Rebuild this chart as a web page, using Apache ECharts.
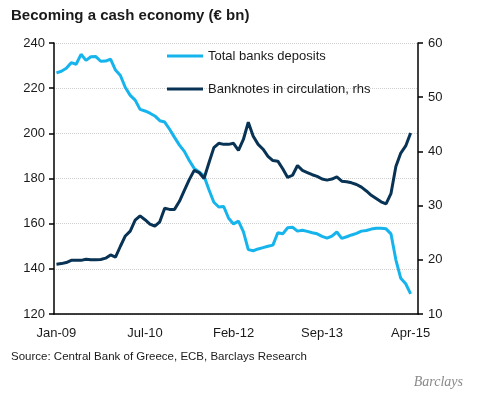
<!DOCTYPE html>
<html>
<head>
<meta charset="utf-8">
<script src="https://cdn.jsdelivr.net/npm/echarts@6/dist/echarts.min.js"></script>
<style>
html,body{margin:0;padding:0;background:#fff;}
#chart{width:479px;height:396px;}
</style>
</head>
<body>
<div id="chart"></div>
<script>
// ---- data ----
var tickLabels = ['Jan-09', 'Jul-10', 'Feb-12', 'Sep-13', 'Apr-15'];
var tickStep = 18;
var categoryCount = 74;

var deposits = [
  226.8, 227.5, 228.8, 231.3, 230.6, 235.0, 232.3, 233.9, 234.0, 231.9,
  232.0, 232.9, 228.0, 225.6, 220.3, 216.8, 214.7, 210.6, 209.9, 208.9,
  207.7, 205.6, 205.0, 201.8, 198.2, 194.8, 192.0, 188.0, 184.5, 182.9,
  181.1, 175.0, 169.5, 167.4, 167.6, 162.4, 159.9, 161.1, 156.5, 148.5,
  148.0, 148.8, 149.4, 150.0, 150.5, 156.0, 155.5, 158.2, 158.4, 156.7,
  157.1, 156.6, 156.0, 155.5, 154.4, 153.6, 154.5, 156.3, 153.5, 154.2,
  155.0, 155.7, 156.7, 157.0, 157.6, 158.0, 158.0, 157.7, 155.5, 144.0,
  135.8, 133.4, 128.9
];

var banknotes = [
  19.2, 19.3, 19.5, 19.9, 19.9, 19.9, 20.1, 20.0, 20.0, 20.05,
  20.3, 20.9, 20.5, 22.5, 24.4, 25.3, 27.3, 28.1, 27.4, 26.6,
  26.2, 27.0, 29.5, 29.3, 29.3, 30.8, 32.8, 34.8, 36.5, 36.1,
  35.0, 37.9, 40.7, 41.5, 41.3, 41.3, 41.5, 40.2, 42.2, 45.4,
  42.8, 41.3, 40.4, 39.1, 38.3, 38.2, 36.8, 35.2, 35.6, 37.4,
  36.5, 36.1, 35.7, 35.4, 34.9, 34.7, 34.9, 35.3, 34.5, 34.4,
  34.2, 33.9, 33.4, 32.7, 31.9, 31.3, 30.7, 30.3, 32.2, 37.2,
  39.7, 41.0, 43.4
];

var seriesNames = ['Total banks deposits', 'Banknotes in circulation, rhs'];

var categories = [];
for (var i = 0; i < categoryCount; i++) categories.push(String(i));

// ---- chart ----
var FONT = '"Liberation Sans", Arial, sans-serif';
var chart = echarts.init(document.getElementById('chart'), null, {renderer: 'canvas'});
var showAt = function (idx) { return idx % tickStep === 0; };

chart.setOption({
  animation: false,
  backgroundColor: '#ffffff',
  title: [
    {
      text: 'Becoming a cash economy (€ bn)',
      left: 6, top: 3,
      textStyle: {fontFamily: FONT, fontSize: 15, fontWeight: 'bold', color: '#1a1a1a'}
    },
    {
      text: 'Source: Central Bank of Greece, ECB, Barclays Research',
      left: 6, top: 346,
      textStyle: {fontFamily: FONT, fontSize: 11.5, fontWeight: 'normal', color: '#1a1a1a'}
    },
    {
      text: 'Barclays',
      right: 11, top: 370,
      textStyle: {fontFamily: '"Liberation Serif", "DejaVu Serif", serif', fontSize: 14, fontStyle: 'italic', fontWeight: 'normal', color: '#8a8a8a'}
    }
  ],
  legend: {
    orient: 'vertical',
    left: 162, top: 44,
    itemWidth: 36, itemHeight: 3,
    itemGap: 19,
    icon: 'rect',
    textStyle: {fontFamily: FONT, fontSize: 13, color: '#1a1a1a', lineHeight: 14},
    data: seriesNames
  },
  grid: {left: 54, right: 61, top: 43, bottom: 82, containLabel: false},
  xAxis: {
    type: 'category',
    data: categories,
    boundaryGap: true,
    axisLine: {lineStyle: {color: '#000', width: 1.5}},
    axisTick: {interval: showAt, length: 5, lineStyle: {color: '#000', width: 1.5}},
    axisLabel: {
      interval: showAt,
      margin: 13,
      fontFamily: FONT, fontSize: 13, color: '#1a1a1a',
      formatter: function (v, idx) { return tickLabels[idx / tickStep] || ''; }
    },
    splitLine: {show: false}
  },
  yAxis: [
    {
      type: 'value', min: 120, max: 240, interval: 20,
      axisLine: {show: true, lineStyle: {color: '#000', width: 1.5}},
      axisTick: {show: true, length: 5, lineStyle: {color: '#000', width: 1.5}},
      axisLabel: {fontFamily: FONT, fontSize: 13, color: '#1a1a1a', margin: 9},
      splitLine: {show: true, lineStyle: {color: '#cfcfcf', type: 'dotted', width: 1}}
    },
    {
      type: 'value', min: 10, max: 60, interval: 10,
      position: 'right',
      axisLine: {show: true, lineStyle: {color: '#000', width: 1.5}},
      axisTick: {show: true, length: 5, lineStyle: {color: '#000', width: 1.5}},
      axisLabel: {fontFamily: FONT, fontSize: 13, color: '#1a1a1a', margin: 10},
      splitLine: {show: false}
    }
  ],
  series: [
    {
      name: seriesNames[0], type: 'line', yAxisIndex: 0,
      data: deposits, showSymbol: false, symbol: 'none',
      itemStyle: {color: '#16b4ec'},
      lineStyle: {color: '#16b4ec', width: 3}, z: 2
    },
    {
      name: seriesNames[1], type: 'line', yAxisIndex: 1,
      data: banknotes, showSymbol: false, symbol: 'none',
      itemStyle: {color: '#083355'},
      lineStyle: {color: '#083355', width: 3}, z: 3
    }
  ]
});
</script>
</body>
</html>
